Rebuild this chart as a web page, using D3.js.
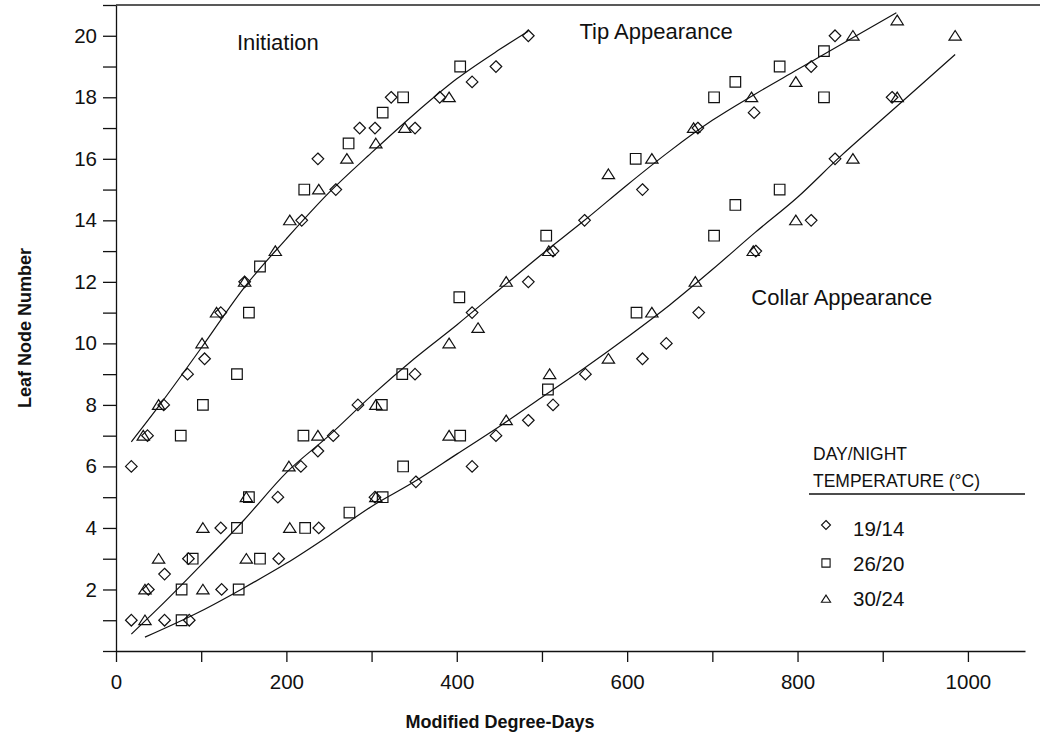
<!DOCTYPE html>
<html>
<head>
<meta charset="utf-8">
<script src="https://cdn.jsdelivr.net/npm/d3@7"></script>
<style>
  body { margin: 0; background: #fff; }
  svg { display: block; }
  text { font-family: "Liberation Sans", Arial, sans-serif; fill: #111; }
</style>
</head>
<body>
<div id="chart"></div>
<script>
// leaf node data: [modified degree-days, leaf node number]
const series = ["19/14", "26/20", "30/24"]

const init1914 = [[18,6],[37,7],[56,8],[84,9],[104,9.5],[123,11],[151,12],[218,14],[258,15],[237,16],[286,17],[304,17],[323,18],[351,17],[380,18],[418,18.5],[446,19],[484,20]]
const init2620 = [[76,7],[102,8],[142,9],[156,11],[169,12.5],[221,15],[273,16.5],[313,17.5],[337,18],[404,19]]
const init3024 = [[32,7],[50,8],[101,10],[118,11],[151,12],[187,13],[204,14],[238,15],[271,16],[305,16.5],[339,17],[391,18]]

const tip1914 = [[18,1],[38,2],[57,2.5],[85,3],[123,4],[190,5],[217,6],[237,6.5],[255,7],[284,8],[351,9],[418,11],[484,12],[513,13],[550,14],[618,15],[683,17],[749,17.5],[816,19],[844,20]]
const tip2620 = [[77,2],[90,3],[142,4],[156,5],[220,7],[312,8],[336,9],[403,11.5],[505,13.5],[610,16],[702,18],[727,18.5],[779,19],[831,19.5],[831,18]]
const tip3024 = [[34,1],[34,2],[50,3],[102,4],[153,5],[203,6],[237,7],[305,8],[391,10],[425,10.5],[458,12],[508,13],[578,15.5],[629,16],[678,17],[746,18],[798,18.5],[865,20],[917,20.5]]

const collar1914 = [[57,1],[86,1],[124,2],[191,3],[238,4],[304,5],[352,5.5],[418,6],[446,7],[484,7.5],[513,8],[551,9],[618,9.5],[646,10],[684,11],[751,13],[816,14],[844,16],[911,18]]
const collar2620 = [[77,1],[144,2],[169,3],[222,4],[274,4.5],[313,5],[337,6],[404,7],[507,8.5],[611,11],[702,13.5],[727,14.5],[779,15]]
const collar3024 = [[102,2],[153,3],[204,4],[305,5],[391,7],[458,7.5],[509,9],[578,9.5],[629,11],[680,12],[748,13],[798,14],[865,16],[917,18],[985,20]]

// fitted curves
const initCurve = [[18,6.8],[50,7.95],[100,9.85],[150,11.8],[200,13.4],[250,14.9],[300,16.2],[350,17.45],[400,18.6],[450,19.55],[484,20.15]]
const tipCurve = [[18,0.55],[50,1.4],[100,2.8],[150,4.25],[200,5.8],[250,7.0],[300,8.3],[350,9.5],[400,10.6],[450,11.75],[500,12.9],[550,14.0],[600,15.15],[650,16.25],[700,17.25],[750,18.1],[800,18.9],[850,19.7],[916,20.75]]
const collarCurve = [[34,0.45],[100,1.3],[150,2.05],[200,2.85],[250,3.75],[300,4.7],[350,5.5],[400,6.4],[450,7.3],[500,8.25],[550,9.2],[600,10.2],[650,11.25],[700,12.4],[750,13.6],[800,14.75],[850,16.07],[900,17.3],[950,18.53],[985,19.39]]

const stageLabels = [
  {text: "Initiation", at: [190, 19.54]},
  {text: "Tip Appearance", at: [634, 19.9]},
  {text: "Collar Appearance", at: [852, 11.25]}
]

const xTicks = d3.range(0, 1001, 100)
const yTicks = d3.range(0, 22, 1)

const width = 1044
const height = 737

const x = d3.scaleLinear().domain([0, 1067]).range([116, 1025])
const y = d3.scaleLinear().domain([0, 21]).range([651, 5])

const svg = d3.select("#chart")
  .append("svg")
  .attr("width", width)
  .attr("height", height)

// marker shapes
function diamond(r) { return `M0,${-r}L${r},0L0,${r}L${-r},0Z` }
function square(r) { return `M${-r},${-r}H${r}V${r}H${-r}Z` }
function triangle(r) { return `M0,${-r*0.95}L${r*1.12},${r*0.8}L${-r*1.12},${r*0.8}Z` }
const shapes = {"19/14": diamond, "26/20": square, "30/24": triangle}
const sizes = {"19/14": 5.8, "26/20": 5.3, "30/24": 5.5}

// axes
const xAxis = d3.axisBottom(x)
  .tickValues(xTicks)
  .tickSize(11)
  .tickSizeOuter(0)
  .tickPadding(12)
  .tickFormat(d => d % 200 === 0 ? d : "")

const yAxis = d3.axisLeft(y)
  .tickValues(yTicks)
  .tickSize(13)
  .tickSizeOuter(0)
  .tickPadding(6)
  .tickFormat(d => d > 0 && d % 2 === 0 ? d : "")

svg.append("g")
  .attr("transform", `translate(0,${y(0)})`)
  .call(xAxis)
  .call(g => g.selectAll("text").attr("font-size", 20.5).attr("font-family", "Liberation Sans, Arial, sans-serif").attr("fill", "#111"))
  .call(g => g.selectAll("line,path").attr("stroke", "#111").attr("stroke-width", 1.3))

svg.append("g")
  .attr("transform", `translate(${x(0)},0)`)
  .call(yAxis)
  .call(g => g.selectAll("text").attr("font-size", 20.5).attr("font-family", "Liberation Sans, Arial, sans-serif").attr("fill", "#111"))
  .call(g => g.selectAll("line,path").attr("stroke", "#111").attr("stroke-width", 1.3))

// top frame line
svg.append("line")
  .attr("x1", x(0)).attr("x2", 1040)
  .attr("y1", y(21)).attr("y2", y(21))
  .attr("stroke", "#222").attr("stroke-width", 1.3)

// axis titles
svg.append("text")
  .attr("transform", `translate(31,${(y(0) + y(21)) / 2}) rotate(-90)`)
  .attr("text-anchor", "middle")
  .attr("font-size", 18)
  .attr("font-weight", "bold")
  .text("Leaf Node Number")

svg.append("text")
  .attr("x", 500)
  .attr("y", 728)
  .attr("text-anchor", "middle")
  .attr("font-size", 18)
  .attr("font-weight", "bold")
  .text("Modified Degree-Days")

// curves
const line = d3.line()
  .x(d => x(d[0]))
  .y(d => y(d[1]))
  .curve(d3.curveMonotoneX)

svg.selectAll(".curve")
  .data([initCurve, tipCurve, collarCurve])
  .join("path")
  .attr("class", "curve")
  .attr("d", line)
  .attr("fill", "none")
  .attr("stroke", "#111")
  .attr("stroke-width", 1.2)

// points
const groups = [
  {key: "19/14", pts: [...init1914, ...tip1914, ...collar1914]},
  {key: "26/20", pts: [...init2620, ...tip2620, ...collar2620]},
  {key: "30/24", pts: [...init3024, ...tip3024, ...collar3024]}
]

groups.forEach(grp => {
  svg.append("g")
    .selectAll("path")
    .data(grp.pts)
    .join("path")
    .attr("transform", d => `translate(${x(d[0])},${y(d[1])})`)
    .attr("d", shapes[grp.key](sizes[grp.key]))
    .attr("fill", "none")
    .attr("stroke", "#111")
    .attr("stroke-width", 1.2)
})

// stage labels
svg.selectAll(".stage")
  .data(stageLabels)
  .join("text")
  .attr("class", "stage")
  .attr("x", d => x(d.at[0]))
  .attr("y", d => y(d.at[1]))
  .attr("text-anchor", "middle")
  .attr("font-size", 22)
  .text(d => d.text)

// legend
const legend = svg.append("g")

legend.append("text")
  .attr("x", 813).attr("y", 460)
  .attr("font-size", 17.5)
  .text("DAY/NIGHT")

legend.append("text")
  .attr("x", 813).attr("y", 487)
  .attr("font-size", 17.5)
  .text("TEMPERATURE (°C)")

legend.append("line")
  .attr("x1", 809).attr("x2", 1025)
  .attr("y1", 494).attr("y2", 494)
  .attr("stroke", "#111").attr("stroke-width", 1.3)

const legendItem = legend.selectAll(".item")
  .data(series)
  .join("g")
  .attr("class", "item")
  .attr("transform", (d, i) => `translate(826,${528 + i * 35})`)

legendItem.append("path")
  .attr("d", d => shapes[d](d === "19/14" ? 4.5 : 4.1))
  .attr("transform", d => d === "19/14" ? "translate(0,-3)" : d === "30/24" ? "translate(0,1)" : null)
  .attr("fill", "none")
  .attr("stroke", "#111")
  .attr("stroke-width", 1.1)

legendItem.append("text")
  .attr("x", 27)
  .attr("y", 8)
  .attr("font-size", 20.5)
  .text(d => d)
</script>
</body>
</html>
